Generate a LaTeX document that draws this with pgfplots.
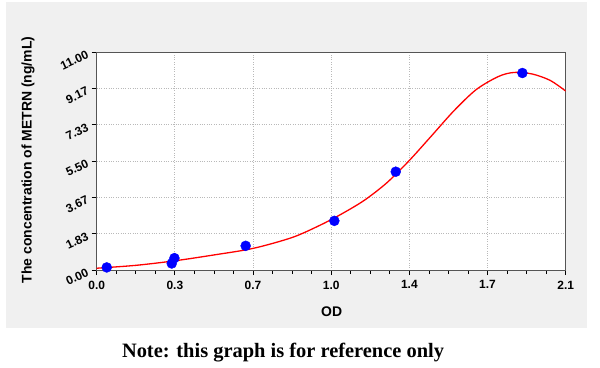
\documentclass[border=0pt]{standalone}
\usepackage{pgfplots}
\pgfplotsset{compat=1.18}
\usepackage{fontspec}
\setmainfont{Liberation Sans}
\newfontfamily\notefont{Liberation Serif}
\definecolor{panel}{HTML}{F0F0F0}
\definecolor{axcol}{HTML}{555555}
\begin{document}
\begin{tikzpicture}[x=1bp,y=1bp]
\fill[white] (0,0) rectangle (600,367);
\fill[panel] (6,38.7) rectangle (586.7,365);
\begin{axis}[
  at={(96.7bp,96.8bp)}, anchor=south west,
  scale only axis, width=469bp, height=218bp,
  xmin=0, xmax=2.1, ymin=0, ymax=11,
  axis background/.style={fill=white},
  axis line style={axcol, line width=1.3bp},
  xtick={0,0.35,0.7,1.05,1.4,1.75,2.1},
  xticklabels={0.0,0.3,0.7,1.0,1.4,1.7,2.1},
  ytick={0,1.83333,3.66667,5.5,7.33333,9.16667,11},
  yticklabels={0.00,1.83,3.67,5.50,7.33,9.17,11.00},
  minor tick num=3,
  tick align=outside, xtick pos=bottom, ytick pos=left,
  major tick length=5bp, minor tick length=4bp,
  tick style={black, line width=0.8bp},
  grid=major,
  major grid style={gray!55, dotted, line width=0.8bp},
  xticklabel style={font=\fontsize{12}{12}\selectfont\bfseries, yshift=-2bp},
  yticklabel style={font=\fontsize{12}{12}\selectfont\bfseries, rotate=25, anchor=east, xshift=-1bp},
  clip=true,
]
\addplot[red, line width=1.3bp, smooth] coordinates {
(0,0.10) (0.175,0.245) (0.35,0.475) (0.525,0.77) (0.7,1.10) (0.875,1.65)
(1.0,2.27) (1.1,2.86) (1.2,3.54) (1.3,4.42) (1.4,5.54) (1.5,6.79)
(1.6,8.05) (1.7,9.12) (1.8,9.78) (1.87,9.98) (1.95,9.90) (2.03,9.58) (2.1,9.04)
};
\addplot[only marks, mark=*, mark size=5bp, blue, mark options={draw=blue, fill=blue}] coordinates {
(0.045,0.14) (0.336,0.34) (0.348,0.61) (0.667,1.23) (1.064,2.49) (1.339,4.97) (1.906,9.95)
};
\end{axis}
\node[font=\fontsize{14}{14}\selectfont\bfseries] at (331.7,55.3) {OD};
\node[font=\fontsize{14}{14}\selectfont\bfseries, rotate=90] at (28,207) {The concentration of METRN (ng/mL)};
\node[font=\notefont\fontsize{20.5}{20.5}\selectfont\bfseries] at (283,14) {Note: this graph is for reference only};
\end{tikzpicture}
\end{document}
